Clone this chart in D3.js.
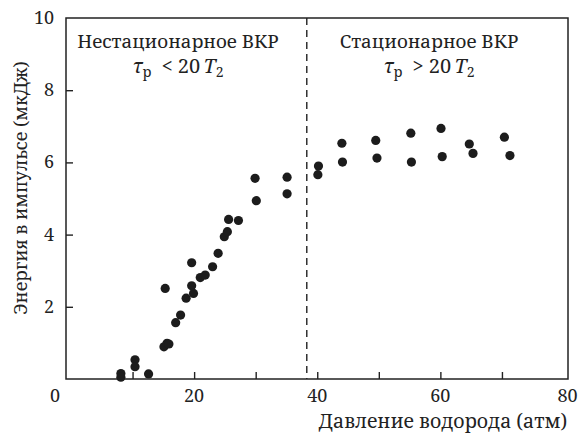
<!DOCTYPE html>
<html>
<head>
<meta charset="utf-8">
<script src="https://cdn.jsdelivr.net/npm/d3@7/dist/d3.min.js"></script>
<style>
  body { margin: 0; background: #fff; }
</style>
</head>
<body>
<div id="chart"></div>
<script>
// Energy in the pulse vs hydrogen pressure (SRS)
const pressure = [8.1, 8.1, 10.4, 10.4, 12.6, 15.3, 15.1, 15.6, 15.9, 17.0,
  17.8, 18.7, 19.9, 19.6, 19.6, 21.0, 21.8, 23.0, 23.9, 24.9,
  25.4, 25.6, 27.2, 29.9, 30.1, 35.1, 35.1, 40.2, 40.1, 44.0,
  44.1, 49.5, 49.7, 55.2, 55.3, 60.1, 60.3, 64.7, 65.3, 70.4, 71.3];
const energy = [0.15, 0.05, 0.53, 0.34, 0.14, 2.51, 0.89, 0.99, 0.97, 1.56,
  1.77, 2.24, 2.37, 2.58, 3.22, 2.81, 2.88, 3.11, 3.48, 3.94,
  4.08, 4.42, 4.39, 5.56, 4.94, 5.59, 5.13, 5.90, 5.66, 6.53,
  6.01, 6.61, 6.12, 6.81, 6.01, 6.94, 6.16, 6.51, 6.25, 6.70, 6.19];
const boundary = 38.3;            // pressure where the regime changes
const xTickMarks = [10, 20, 30, 40, 50, 60, 70];
const xTickLabels = [20, 40, 60, 80];
const yTickMarks = [2, 4, 6, 8];
const yTickLabels = [2, 4, 6, 8, 10];

const width = 580, height = 434;
const frame = { left: 66, right: 568, top: 18, bottom: 379 };

const svg = d3.select("#chart").append("svg")
  .attr("width", width)
  .attr("height", height)
  .attr("font-family", "'Noto Serif', 'DejaVu Serif', serif")
  .attr("fill", "#222");

// scales (the frame sticks out a little past 0 and 80 like in the print)
const x = d3.scaleLinear().domain([0, 80]).range([71, 563.5]);
const y = d3.scaleLinear().domain([0, 10]).range([frame.bottom, frame.top]);

// inward tick marks
svg.append("g")
  .attr("transform", `translate(0,${frame.bottom})`)
  .call(d3.axisBottom(x).tickValues(xTickMarks).tickSize(-7).tickFormat(""))
  .call(g => g.select(".domain").remove())
  .selectAll("line").attr("stroke", "#222").attr("stroke-width", 1.4);

svg.append("g")
  .attr("transform", `translate(${frame.left},0)`)
  .call(d3.axisLeft(y).tickValues(yTickMarks).tickSize(-7).tickFormat(""))
  .call(g => g.select(".domain").remove())
  .selectAll("line").attr("stroke", "#222").attr("stroke-width", 1.4);

// tick labels
svg.append("g")
  .selectAll("text")
  .data(xTickLabels)
  .join("text")
  .attr("x", d => x(d) + (d === 80 ? 4 : 0))
  .attr("y", 402)
  .attr("text-anchor", "middle")
  .style("font-size", "18px")
  .text(d => d);

svg.append("text")
  .attr("x", 55)
  .attr("y", 402)
  .attr("text-anchor", "middle")
  .style("font-size", "18px")
  .text("0");

svg.append("g")
  .selectAll("text")
  .data(yTickLabels)
  .join("text")
  .attr("x", 54)
  .attr("y", d => y(d) + 6)
  .attr("text-anchor", "end")
  .style("font-size", "18px")
  .text(d => d);

// frame
svg.append("rect")
  .attr("x", frame.left)
  .attr("y", frame.top)
  .attr("width", frame.right - frame.left)
  .attr("height", frame.bottom - frame.top)
  .attr("fill", "none")
  .attr("stroke", "#222")
  .attr("stroke-width", 1.5);

// regime boundary
svg.append("line")
  .attr("x1", x(boundary)).attr("x2", x(boundary))
  .attr("y1", frame.top).attr("y2", frame.bottom)
  .attr("stroke", "#222")
  .attr("stroke-width", 1.4)
  .attr("stroke-dasharray", "7,5");

// points
svg.append("g")
  .selectAll("circle")
  .data(pressure.map((p, i) => [p, energy[i]]))
  .join("circle")
  .attr("cx", d => x(d[0]))
  .attr("cy", d => y(d[1]))
  .attr("r", 4.6)
  .attr("fill", "#1c1c1c");

// axis titles
svg.append("text")
  .attr("transform", "translate(27,188) rotate(-90)")
  .attr("text-anchor", "middle")
  .style("font-size", "18px")
  .text("Энергия в импульсе (мкДж)");

svg.append("text")
  .attr("x", 443)
  .attr("y", 428)
  .attr("text-anchor", "middle")
  .style("font-size", "19.5px")
  .text("Давление водорода (атм)");

// regime annotations
function regime(cx, title, sign) {
  svg.append("text")
    .attr("x", cx)
    .attr("y", 48)
    .attr("text-anchor", "middle")
    .style("font-size", "18.8px")
    .text(title);
  const t = svg.append("text")
    .attr("x", cx)
    .attr("y", 73)
    .attr("text-anchor", "middle")
    .style("font-size", "20px");
  t.append("tspan").style("font-style", "italic").text("τ");
  t.append("tspan").attr("dy", 4).style("font-size", "14px").text("р");
  t.append("tspan").attr("dy", -4).text(`\u2002${sign} 20\u2009`);
  t.append("tspan").style("font-style", "italic").text("T");
  t.append("tspan").attr("dy", 4).style("font-size", "14px").text("2");
}
regime(178, "Нестационарное ВКР", "<");
regime(429, "Стационарное ВКР", ">");
</script>
</body>
</html>
